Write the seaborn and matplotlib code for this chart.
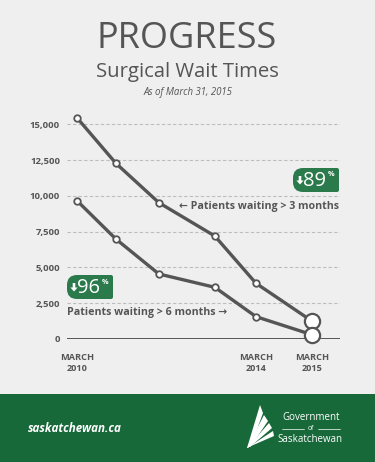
import pandas as pd
import seaborn as sns
import matplotlib.pyplot as plt
from matplotlib.patches import FancyBboxPatch, Rectangle, Polygon

# data
x_pos = [2010.0, 2010.87, 2011.83, 2013.08, 2014.0, 2015.25]
wait_3m = [15450, 12270, 9520, 7190, 3890, 1250]
wait_6m = [9660, 6980, 4540, 3610, 1560, 300]
y_ticks = [0, 2500, 5000, 7500, 10000, 12500, 15000]
x_ticks = [2010.0, 2014.0, 2015.25]
x_labels = ['MARCH\n2010', 'MARCH\n2014', 'MARCH\n2015']

df = pd.DataFrame({'x': x_pos * 2,
                   'value': wait_3m + wait_6m,
                   'series': ['3m'] * 6 + ['6m'] * 6})

sns.set_style('white')
plt.rcParams['font.family'] = ['Open Sans', 'DejaVu Sans']

BG = '#efefef'
GREY = '#555555'
GREEN = '#17693a'
BADGE = '#2b7a4b'

fig = plt.figure(figsize=(3.75, 4.62), dpi=100, facecolor=BG)
W, H = 375, 462

# chart axes (pixel-derived placement)
ax = fig.add_axes([67 / W, (H - 339) / H, (340 - 67) / W, 229.1 / H])
ax.set_facecolor(BG)
sns.lineplot(data=df, x='x', y='value', units='series', estimator=None,
             color=GREY, lw=2.4, ax=ax, zorder=3)
for s in ['3m', '6m']:
    d = df[df.series == s]
    ax.scatter(d.x[:-1], d.value[:-1], s=22, facecolor='white',
               edgecolor=GREY, linewidth=1.3, zorder=4, clip_on=False)
    ax.scatter(d.x[-1:], d.value[-1:], s=120, facecolor='white',
               edgecolor=GREY, linewidth=1.6, zorder=4, clip_on=False)

ax.set_xlim(2009.777, 2015.877)
ax.set_ylim(0, 16000)
for v in y_ticks[1:]:
    ax.axhline(v, color='#bdbdbd', lw=0.8, ls=(0, (3, 2)), zorder=1)
ax.axhline(0, color=GREY, lw=1.4, zorder=2)
for sp in ax.spines.values():
    sp.set_visible(False)
ax.set_yticks(y_ticks)
ax.set_yticklabels([f'{v:,}' for v in y_ticks], fontsize=6.8,
                   fontweight='bold', color=GREY)
ax.set_xticks(x_ticks)
ax.set_xticklabels(x_labels, fontsize=6.6, fontweight='bold', color=GREY,
                   linespacing=1.35)
ax.tick_params(axis='y', length=0, pad=5)
ax.tick_params(axis='x', length=0, pad=10)
ax.set_xlabel('')
ax.set_ylabel('')

# overlay in pixel coordinates for titles, badges and footer
ov = fig.add_axes([0, 0, 1, 1], zorder=5)
ov.set_xlim(0, W)
ov.set_ylim(H, 0)
ov.axis('off')
ov.patch.set_alpha(0)

ov.text(187, 39, 'PROGRESS', ha='center', va='center', fontsize=26,
        color=GREY)
ov.text(187, 72, 'Surgical Wait Times', ha='center', va='center',
        fontsize=14.6, color=GREY)
ov.text(188, 93, 'As of March 31, 2015', ha='center', va='center',
        fontsize=6.9, style='italic', color=GREY)

ov.text(179, 206, '← Patients waiting > 3 months', ha='left', va='center',
        fontsize=7.7, fontweight='bold', color=GREY)
ov.text(67, 313, 'Patients waiting > 6 months →', ha='left', va='center',
        fontsize=7.7, fontweight='bold', color=GREY)

for x0, y0, pct in [(67, 275, '96'), (293, 168, '89')]:
    ov.add_patch(FancyBboxPatch((x0, y0), 46, 24,
                                boxstyle='round,pad=0,rounding_size=10',
                                fc=BADGE, ec='none'))
    ov.add_patch(FancyBboxPatch((x0 + 28, y0), 18, 24,
                                boxstyle='round,pad=0,rounding_size=2',
                                fc=BADGE, ec='none'))
    # small filled down arrow
    cx, cy = x0 + 7, y0 + 12.5
    ov.add_patch(Polygon([[cx - 1.3, cy - 4.5], [cx + 1.3, cy - 4.5],
                          [cx + 1.3, cy], [cx + 3.6, cy], [cx, cy + 4],
                          [cx - 3.6, cy], [cx - 1.3, cy]],
                         fc='white', ec='none'))
    ov.text(x0 + 10.5, y0 + 13, pct, ha='left', va='center', fontsize=14.5,
            color='white')
    ov.text(x0 + 34.5, y0 + 7, '%', ha='left', va='center', fontsize=5.2,
            fontweight='bold', color='white')

# footer
ov.add_patch(Rectangle((0, 394), W, H - 394, fc=GREEN, ec='none'))
ov.text(28, 428, 'saskatchewan.ca', ha='left', va='center', fontsize=8.4,
        fontweight='bold', style='italic', color='white')
tip = [247, 448]
for top_a, top_b in [([260, 405], [263, 413]), ([264, 415], [268, 421]),
                     ([269, 423], [272, 428]), ([273, 431], [274, 436])]:
    ov.add_patch(Polygon([tip, top_a, top_b, [251, 446]],
                         fc='white', ec='none'))
ov.text(311, 417, 'Government', ha='center', va='center', fontsize=7,
        color='white')
ov.text(311, 428.5, 'of', ha='center', va='center', fontsize=4.8,
        color='white')
ov.plot([282, 304], [429, 429], color='white', lw=0.5)
ov.plot([318, 340], [429, 429], color='white', lw=0.5)
ov.text(310, 440, 'Saskatchewan', ha='center', va='center', fontsize=7,
        color='white')

fig.savefig('out.png', dpi=100, facecolor=BG)
